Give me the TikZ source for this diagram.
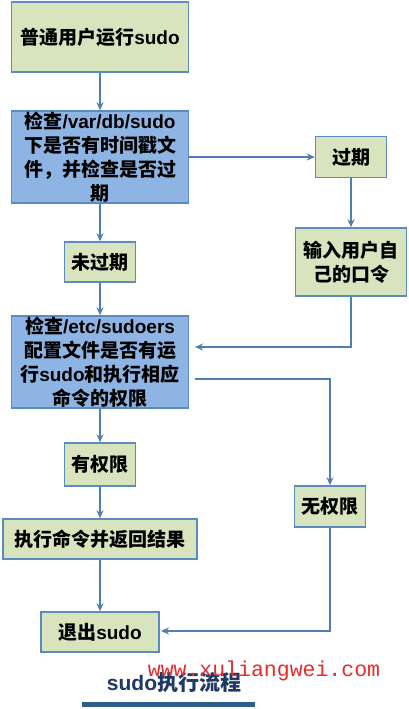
\documentclass[tikz,border=0pt]{standalone}
\usepackage{fontspec}
\setmainfont{Noto Sans CJK SC}
\newfontfamily\lat{Liberation Sans}
\newfontfamily\mono{Liberation Mono}
\usetikzlibrary{arrows.meta}
\definecolor{gfill}{HTML}{D7E4BD}
\definecolor{bfill}{HTML}{8DB4E2}
\definecolor{bdr}{HTML}{5B8BC0}
\definecolor{arr}{HTML}{4F7FAF}
\definecolor{navy}{HTML}{1F3864}
\definecolor{wm}{HTML}{E42C2C}
\definecolor{bar}{HTML}{2F5D8A}
\newcommand{\lt}[1]{{\lat #1}}
\tikzset{
  box/.style={draw=bdr, line width=1.5pt, inner sep=0pt, align=center,
    font={\fontsize{19}{24}\selectfont\bfseries}},
  gbox/.style={box, fill=gfill},
  bbox/.style={box, fill=bfill},
  conn/.style={draw=arr, line width=1.5pt, -{Stealth[length=8pt,width=7pt]}}
}
\begin{document}
\begin{tikzpicture}[x=1pt,y=-1pt]
\useasboundingbox (0,0) rectangle (408,709);
\node[gbox, minimum width=177pt, minimum height=70pt] (start) at (100,37) {普通用户运行\lt{sudo}};
\node[bbox, minimum width=177pt, minimum height=92pt] (chk1) at (100,157) {检查\lt{/var/db/sudo}\\下是否有时间戳文\\件，并检查是否过\\期};
\node[gbox, minimum width=71pt, minimum height=41pt] (exp) at (351,157) {过期};
\node[gbox, minimum width=111pt, minimum height=68pt] (pwd) at (351,262) {输入用户自\\己的口令};
\node[gbox, minimum width=71pt, minimum height=40pt] (nexp) at (100,262) {未过期};
\node[bbox, minimum width=177pt, minimum height=92pt] (chk2) at (100,362) {检查\lt{/etc/sudoers}\\配置文件是否有运\\行\lt{sudo}和执行相应\\命令的权限};
\node[gbox, minimum width=71pt, minimum height=43pt] (yes) at (100,464.5) {有权限};
\node[gbox, minimum width=71pt, minimum height=41pt] (no) at (330,506.5) {无权限};
\node[gbox, minimum width=194pt, minimum height=40pt] (run) at (100,539) {执行命令并返回结果};
\node[gbox, minimum width=118pt, minimum height=40pt] (quit) at (100,632) {退出\lt{sudo}};

\coordinate (in3) at (195,347);
\coordinate (out3) at (195,379);
\coordinate (inq) at (161,631);

\draw[conn] (start.south) -- (chk1.north);
\draw[conn] (chk1.east) -- (exp.west);
\draw[conn] (exp.south) -- (pwd.north);
\draw[conn] (chk1.south) -- (nexp.north);
\draw[conn] (nexp.south) -- (chk2.north);
\draw[conn] (pwd.south) |- (in3);
\draw[conn] (out3) -| (no.north);
\draw[conn] (chk2.south) -- (yes.north);
\draw[conn] (yes.south) -- (run.north);
\draw[conn] (run.south) -- (quit.north);
\draw[conn] (no.south) |- (inq);

\node[text=navy, font={\fontsize{21}{24}\selectfont\bfseries}, inner sep=0pt] (title) at (174,683) {\lt{sudo}执行流程};
\node[text=wm, font={\fontsize{21.5}{24}\selectfont\mono}, inner sep=0pt] (mark) at (264,671) {www.xuliangwei.com};
\fill[bar] (82,702) rectangle (255,707);
\end{tikzpicture}
\end{document}
